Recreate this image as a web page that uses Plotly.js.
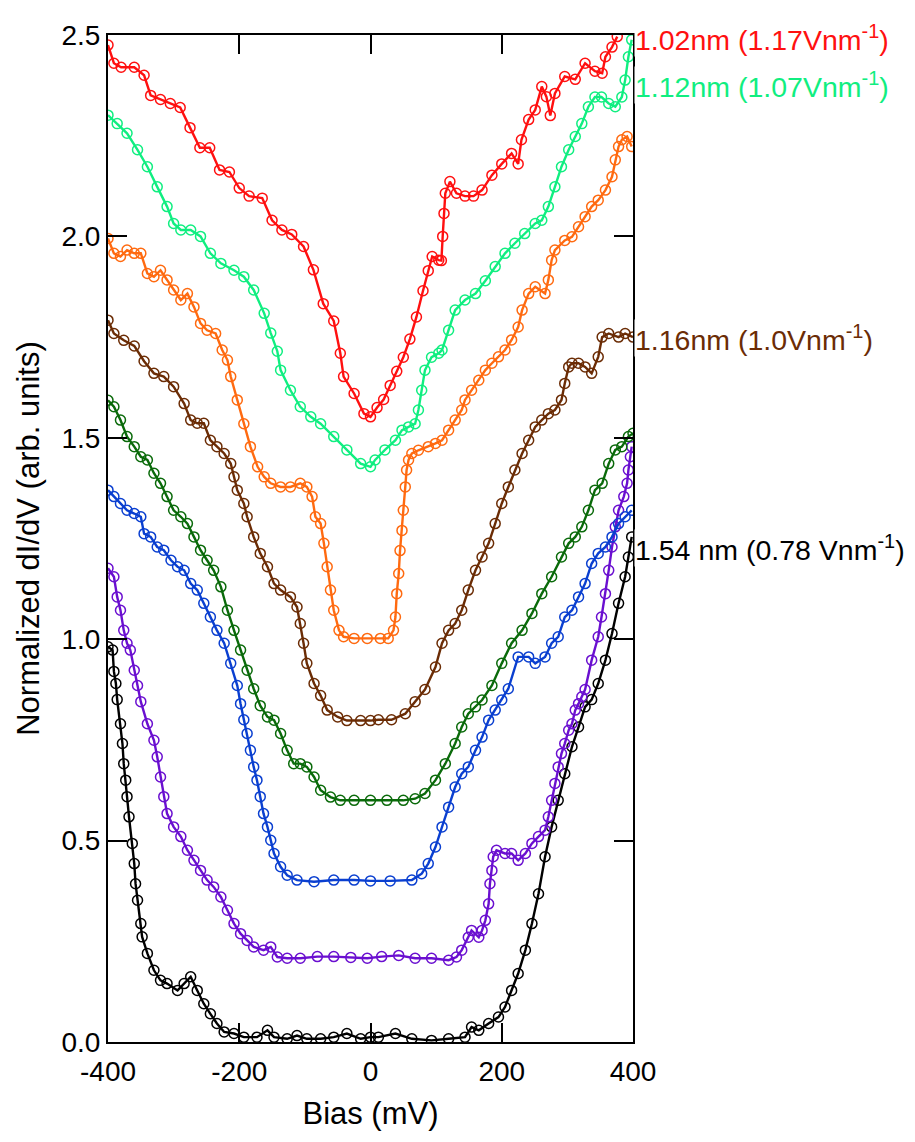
<!DOCTYPE html>
<html>
<head>
<meta charset="utf-8">
<script src="https://cdn.plot.ly/plotly-3.0.1.min.js"></script>
<style>html,body{margin:0;padding:0;background:#fff;}#plot{width:915px;height:1142px;}</style>
</head>
<body>
<div id="plot"></div>
<script>
// ---- Data (Bias in mV, normalized dI/dV) ----
const redX = [-400,-391,-380,-360,-345,-335,-320,-305,-290,-275,-260,-245,-230,-215,-200,-185,-165,-150,-135,-120,-102,-87,-72,-56,-46,-41,-25,-10,0,10,20,30,40,50,60,70,80,88,94,104,108,110,112,114,121,131,144,157,170,185,200,215,225,230,241,251,261,268,274,281,296,312,327,342,353,358,368,376];
const redY = [2.475,2.43,2.42,2.42,2.40,2.35,2.34,2.33,2.32,2.27,2.22,2.22,2.165,2.16,2.12,2.10,2.095,2.04,2.016,2.005,1.975,1.917,1.833,1.79,1.71,1.652,1.61,1.56,1.552,1.575,1.595,1.63,1.665,1.70,1.745,1.80,1.865,1.915,1.95,1.941,1.94,2.0,2.057,2.107,2.136,2.107,2.10,2.10,2.115,2.152,2.18,2.206,2.18,2.24,2.29,2.314,2.372,2.347,2.30,2.355,2.397,2.39,2.43,2.41,2.405,2.446,2.47,2.496];

const greenX = [-400,-386,-371,-355,-340,-325,-310,-300,-289,-274,-259,-244,-228,-208,-193,-178,-162,-152,-142,-137,-122,-107,-91,-76,-56,-36,-15,0,7,22,38,48,58,68,73,78,83,93,104,109,119,129,144,160,175,190,205,220,235,251,261,271,281,291,302,312,322,332,342,352,363,373,383,388,393,398];
const greenY = [2.301,2.28,2.256,2.215,2.173,2.123,2.074,2.032,2.016,2.016,2.0,1.958,1.933,1.916,1.90,1.867,1.809,1.76,1.715,1.668,1.618,1.577,1.552,1.535,1.503,1.47,1.436,1.428,1.445,1.47,1.494,1.519,1.527,1.535,1.569,1.618,1.668,1.70,1.71,1.718,1.767,1.817,1.842,1.858,1.89,1.925,1.958,1.983,2.007,2.032,2.04,2.074,2.123,2.173,2.215,2.248,2.28,2.322,2.346,2.346,2.33,2.322,2.346,2.388,2.446,2.488];

const orangeX = [-400,-391,-381,-371,-360,-350,-340,-330,-320,-310,-300,-289,-279,-269,-259,-249,-236,-226,-218,-213,-203,-193,-183,-172,-162,-152,-137,-122,-107,-97,-89,-84,-76,-71,-66,-61,-56,-48,-41,-25,-5,15,27,35,38,40,43,45,48,50,53,55,58,63,73,88,99,109,119,129,139,144,154,165,175,185,195,205,215,225,231,241,251,266,271,276,281,296,307,317,327,337,347,358,368,373,378,383,391,398];
const orangeY = [1.995,1.958,1.95,1.966,1.958,1.958,1.908,1.90,1.916,1.892,1.867,1.842,1.858,1.825,1.784,1.767,1.759,1.718,1.693,1.652,1.594,1.535,1.478,1.428,1.403,1.387,1.378,1.378,1.387,1.378,1.354,1.304,1.287,1.238,1.18,1.122,1.072,1.022,1.006,1.002,1.002,1.002,1.002,1.022,1.055,1.113,1.163,1.22,1.27,1.32,1.378,1.42,1.445,1.461,1.469,1.478,1.486,1.494,1.519,1.544,1.569,1.594,1.618,1.643,1.668,1.685,1.701,1.718,1.743,1.775,1.817,1.858,1.875,1.858,1.892,1.941,1.966,1.99,1.999,2.024,2.049,2.074,2.09,2.115,2.148,2.19,2.223,2.24,2.248,2.223];

const brownX = [-400,-391,-376,-360,-345,-330,-315,-300,-284,-274,-264,-254,-244,-234,-223,-213,-208,-203,-193,-188,-178,-168,-157,-147,-137,-122,-112,-107,-102,-97,-86,-76,-66,-50,-36,-15,0,12,32,53,68,83,99,109,119,129,139,149,160,170,180,190,200,210,220,231,241,251,261,271,281,291,296,302,307,317,327,337,347,353,363,378,388,400];
const brownY = [1.792,1.759,1.742,1.728,1.69,1.66,1.652,1.627,1.585,1.544,1.536,1.536,1.494,1.478,1.461,1.436,1.403,1.37,1.337,1.304,1.254,1.213,1.18,1.138,1.122,1.105,1.08,1.039,0.99,0.94,0.89,0.86,0.824,0.807,0.798,0.798,0.798,0.80,0.80,0.815,0.845,0.875,0.931,0.99,1.022,1.039,1.072,1.122,1.171,1.204,1.238,1.287,1.337,1.378,1.42,1.461,1.494,1.527,1.544,1.56,1.569,1.594,1.635,1.676,1.685,1.685,1.676,1.66,1.701,1.75,1.759,1.75,1.759,1.75];

const dgreenX = [-400,-391,-381,-371,-360,-350,-340,-330,-320,-310,-300,-289,-279,-269,-259,-249,-239,-228,-218,-208,-198,-188,-178,-168,-157,-147,-137,-127,-117,-107,-97,-86,-76,-61,-46,-25,0,25,50,68,83,99,114,129,139,149,160,170,185,200,215,231,246,261,276,291,302,312,322,332,342,353,363,373,383,393,400];
const dgreenY = [1.593,1.577,1.544,1.503,1.478,1.453,1.445,1.412,1.387,1.354,1.32,1.304,1.287,1.254,1.221,1.196,1.171,1.13,1.072,1.022,0.973,0.923,0.877,0.835,0.807,0.799,0.766,0.724,0.691,0.691,0.683,0.658,0.625,0.608,0.6,0.6,0.6,0.6,0.6,0.604,0.617,0.65,0.691,0.741,0.782,0.815,0.832,0.849,0.885,0.94,0.99,1.022,1.064,1.113,1.155,1.204,1.238,1.254,1.279,1.32,1.37,1.387,1.436,1.47,1.478,1.503,1.511];

const blueX = [-400,-391,-381,-371,-360,-350,-345,-335,-325,-315,-304,-294,-284,-274,-264,-254,-244,-234,-223,-213,-203,-198,-193,-188,-183,-178,-173,-168,-163,-157,-152,-147,-137,-127,-112,-86,-56,-25,0,30,63,78,88,99,109,119,129,139,149,160,170,180,190,200,210,225,241,251,266,276,286,296,307,317,327,337,347,358,368,378,388,398];
const blueY = [1.37,1.354,1.337,1.32,1.312,1.304,1.262,1.254,1.229,1.221,1.196,1.18,1.171,1.138,1.122,1.089,1.055,1.022,0.99,0.94,0.885,0.84,0.80,0.766,0.724,0.683,0.65,0.609,0.567,0.534,0.501,0.468,0.435,0.414,0.402,0.398,0.402,0.402,0.40,0.40,0.402,0.418,0.443,0.484,0.534,0.583,0.633,0.666,0.683,0.724,0.757,0.799,0.824,0.849,0.877,0.956,0.956,0.94,0.956,0.99,1.006,1.055,1.072,1.105,1.138,1.188,1.213,1.229,1.254,1.287,1.304,1.32];

const purpleX = [-400,-391,-386,-381,-376,-371,-366,-360,-355,-350,-340,-330,-325,-320,-315,-310,-300,-289,-279,-269,-259,-249,-239,-228,-218,-208,-198,-188,-178,-163,-152,-142,-127,-107,-81,-56,-30,-5,17,43,68,93,119,131,139,149,154,165,170,175,180,182,185,187,192,205,215,225,236,246,256,266,271,276,281,286,291,296,302,307,312,317,322,327,337,347,352,358,363,368,373,378,386,391,393,396,398];
const purpleY = [1.176,1.155,1.105,1.072,1.022,0.99,0.973,0.923,0.885,0.845,0.79,0.749,0.708,0.658,0.609,0.567,0.534,0.51,0.476,0.451,0.426,0.402,0.385,0.36,0.327,0.294,0.269,0.252,0.236,0.228,0.236,0.211,0.208,0.208,0.212,0.212,0.21,0.208,0.212,0.215,0.208,0.208,0.203,0.211,0.228,0.26,0.277,0.26,0.277,0.302,0.343,0.393,0.426,0.46,0.476,0.468,0.468,0.451,0.468,0.493,0.51,0.526,0.559,0.6,0.642,0.683,0.716,0.741,0.774,0.79,0.824,0.84,0.857,0.875,0.948,1.006,1.055,1.113,1.171,1.229,1.279,1.32,1.354,1.387,1.42,1.453,1.478];

const blackX = [-400,-393,-391,-388,-386,-381,-378,-376,-373,-371,-368,-363,-360,-358,-355,-350,-348,-340,-330,-320,-310,-294,-284,-274,-264,-254,-244,-234,-223,-208,-193,-173,-157,-147,-127,-112,-97,-76,-56,-36,-15,0,12,38,63,93,119,144,154,165,180,195,205,215,225,236,246,256,266,276,286,296,307,317,327,337,347,358,368,378,388,393,398];
const blackY = [0.981,0.973,0.92,0.89,0.85,0.79,0.741,0.691,0.65,0.609,0.559,0.493,0.443,0.393,0.352,0.294,0.261,0.22,0.178,0.153,0.145,0.128,0.145,0.162,0.128,0.095,0.07,0.046,0.025,0.021,0.012,0.012,0.029,0.012,0.008,0.016,0.008,0.008,0.012,0.021,0.008,0.012,0.012,0.021,0.008,0.004,0.008,0.012,0.037,0.029,0.046,0.062,0.087,0.128,0.17,0.228,0.294,0.368,0.46,0.534,0.6,0.666,0.733,0.782,0.832,0.85,0.89,0.948,1.014,1.089,1.155,1.204,1.254];

const labelTexts = ["1.02nm (1.17Vnm<sup>-1</sup>)","1.12nm (1.07Vnm<sup>-1</sup>)","1.16nm (1.0Vnm<sup>-1</sup>)","1.54 nm (0.78 Vnm<sup>-1</sup>)"];
const labelY = [2.492, 2.376, 1.747, 1.226];
const xTicks = [-400,-200,0,200,400];
const yTicks = [0,0.5,1.0,1.5,2.0,2.5];

// ---- styling ----
const FONT = "Arial, 'Liberation Sans', sans-serif";
const series = [
  [blackX, blackY, "#000000"],
  [purpleX, purpleY, "#6a0fd0"],
  [blueX, blueY, "#0a3fd0"],
  [dgreenX, dgreenY, "#0a6a0a"],
  [brownX, brownY, "#6b2c05"],
  [orangeX, orangeY, "#ff6a10"],
  [greenX, greenY, "#10ee80"],
  [redX, redY, "#ff1010"]
];
const traces = series.map(s => ({
  x: s[0], y: s[1], type: "scatter", mode: "lines+markers",
  line: {color: s[2], width: 2.4},
  marker: {symbol: "circle-open", size: 10, color: s[2], line: {width: 1.5, color: s[2]}},
  hoverinfo: "skip", showlegend: false
}));

const labelColors = ["#ff1010","#10ee80","#6b2c05","#000000"];
const annotations = labelTexts.map((t,i) => ({
  text: t, xref: "paper", x: 1, xanchor: "left", xshift: 1,
  yref: "y", y: labelY[i], yanchor: "middle",
  showarrow: false, bgcolor: "rgba(255,255,255,1)", borderpad: 0,
  font: {family: FONT, size: 28.5, color: labelColors[i]}
}));

const axisCommon = {
  showline: true, linecolor: "#000", linewidth: 2, mirror: "allticks",
  ticks: "inside", ticklen: 19, tickwidth: 2, tickcolor: "#000",
  showgrid: false, zeroline: false,
  tickfont: {family: FONT, size: 28, color: "#000"}
};

const layout = {
  width: 915, height: 1142,
  margin: {l: 108, r: 282, t: 35, b: 100, pad: 0},
  paper_bgcolor: "#fff", plot_bgcolor: "#fff",
  xaxis: Object.assign({}, axisCommon, {
    range: [-400, 400], tickvals: xTicks, ticktext: xTicks.map(String),
    ticklabelstandoff: 3,
    title: {text: "Bias (mV)", font: {family: FONT, size: 31, color: "#000"}, standoff: 17}
  }),
  yaxis: Object.assign({}, axisCommon, {
    range: [0, 2.5], tickvals: yTicks, ticktext: yTicks.map(v => v.toFixed(1)),
    title: {text: "Normalized dI/dV (arb. units)", font: {family: FONT, size: 31, color: "#000"}, standoff: 13}
  }),
  annotations: annotations
};

Plotly.newPlot("plot", traces, layout, {displayModeBar: false, staticPlot: true});
</script>
</body>
</html>
